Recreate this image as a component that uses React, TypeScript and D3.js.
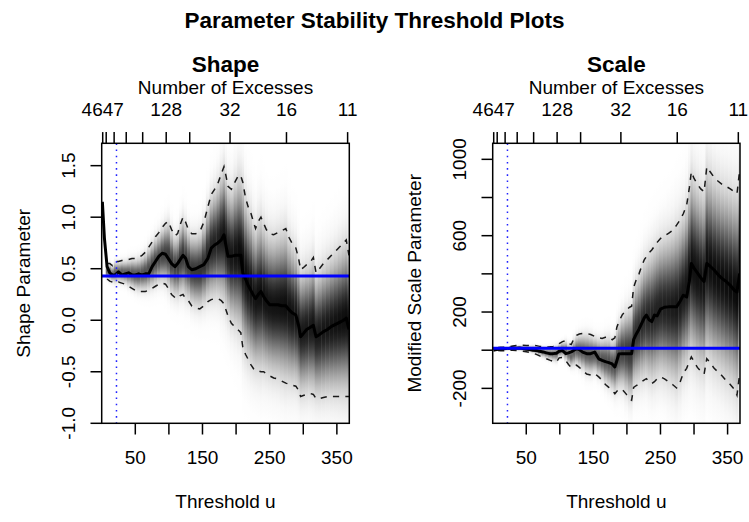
import React from "react";
import * as d3 from "d3";

// ---------------- data ----------------
const thresholds = [
  1, 4, 8, 12, 16, 20, 25, 30, 35, 40,
  45, 50, 55, 60, 65, 70, 75, 80, 85, 90,
  95, 99, 104, 109, 113, 117, 121, 125, 129, 134,
  140, 146, 152, 158, 163, 168, 173, 178, 182, 185,
  188, 193, 199, 204, 207, 210, 214, 218, 222, 226,
  229, 233, 237, 241, 245, 250, 256, 262, 268, 274,
  279, 284, 289, 293, 296, 300, 305, 310, 315, 319,
  324, 330, 336, 342, 348, 354, 360, 364, 368,
];

const shapeEst = [
  1.15, 0.8, 0.52, 0.46, 0.44, 0.44, 0.47, 0.44, 0.45, 0.46,
  0.44, 0.44, 0.45, 0.44, 0.45, 0.45, 0.52, 0.57, 0.62, 0.65,
  0.64, 0.6, 0.55, 0.52, 0.55, 0.59, 0.63, 0.6, 0.52, 0.49,
  0.5, 0.52, 0.54, 0.6, 0.7, 0.73, 0.75, 0.78, 0.83, 0.72,
  0.62, 0.62, 0.63, 0.63, 0.63, 0.46, 0.4, 0.34, 0.29, 0.24,
  0.21, 0.25, 0.28, 0.23, 0.19, 0.15, 0.15, 0.15, 0.14, 0.14,
  0.1, 0.07, 0.05, -0.05, -0.16, -0.13, -0.09, -0.07, -0.05, -0.16,
  -0.14, -0.11, -0.09, -0.06, -0.04, -0.02, 0.0, 0.02, -0.09,
];

const shapeUpper: (number | null)[] = [
  null, null, 0.55, 0.55, 0.53, 0.57, 0.57, 0.58, 0.58, 0.59,
  0.6, 0.6, 0.61, 0.63, 0.66, 0.71, 0.76, 0.81, 0.85, 0.9,
  0.94, 0.96, 0.88, 0.82, 0.84, 0.93, 1.0, 0.95, 0.88, 0.84,
  0.84, 0.86, 0.95, 1.1, 1.22, 1.27, 1.33, 1.42, 1.49, 1.4,
  1.3, 1.27, 1.35, 1.41, 1.4, 1.34, 1.19, 1.1, 1.04, 0.95,
  0.89, 0.96, 1.0, 0.94, 0.88, 0.84, 0.83, 0.85, 0.87, 0.89,
  0.8, 0.74, 0.7, 0.6, 0.49, 0.51, 0.54, 0.56, 0.61, 0.46,
  0.5, 0.55, 0.59, 0.63, 0.67, 0.71, 0.75, 0.78, 0.63,
];

const shapeLower: (number | null)[] = [
  null, null, 0.4, 0.38, 0.37, 0.36, 0.37, 0.36, 0.35, 0.33,
  0.31, 0.29, 0.28, 0.28, 0.28, 0.29, 0.31, 0.33, 0.35, 0.36,
  0.35, 0.31, 0.25, 0.22, 0.21, 0.24, 0.25, 0.21, 0.19, 0.14,
  0.12, 0.11, 0.14, 0.18, 0.2, 0.21, 0.21, 0.19, 0.16, 0.1,
  0.04, -0.03, -0.07, -0.1, -0.12, -0.26, -0.33, -0.38, -0.43, -0.47,
  -0.49, -0.49, -0.5, -0.5, -0.52, -0.54, -0.56, -0.57, -0.59, -0.61,
  -0.62, -0.63, -0.64, -0.68, -0.74, -0.73, -0.72, -0.71, -0.72, -0.76,
  -0.76, -0.75, -0.74, -0.74, -0.74, -0.74, -0.74, -0.74, -0.74,
];

const scaleEst = [
  0, 2, 5, 7, 8, 9, 10, 12, 10, 12,
  9, 5, 3, 0, -2, -6, -9, -14, -18, -18,
  -16, -6, -2, -18, -14, -9, 0, 8, 3, -10,
  -18, -18, -10, -45, -53, -60, -65, -72, -88, -55,
  -20, -18, -18, -18, -18, 55, 85, 110, 140, 170,
  184, 160, 150, 184, 180, 215, 225, 227, 227, 227,
  255, 288, 279, 360, 454, 430, 405, 380, 360, 454,
  440, 420, 395, 375, 360, 340, 314, 305, 402,
];

const scaleUpper: (number | null)[] = [
  null, null, 14, 15, 16, 17, 18, 22, 24, 26,
  26, 25, 25, 26, 24, 20, 18, 17, 18, 20,
  25, 35, 45, 50, 35, 30, 60, 78, 85, 88,
  88, 82, 72, 65, 62, 68, 70, 55, 65, 120,
  150, 185, 210, 225, 230, 330, 370, 400, 440, 475,
  490, 510, 525, 545, 565, 585, 600, 612, 628, 655,
  682, 715, 760, 850, 935, 900, 870, 845, 830, 960,
  935, 905, 885, 868, 858, 845, 830, 820, 943,
];

const scaleLower: (number | null)[] = [
  null, null, -2, -3, -3, -2, -1, 0, -2, -3,
  -5, -8, -12, -16, -22, -30, -38, -45, -52, -58,
  -62, -40, -38, -55, -75, -90, -85, -78, -90, -105,
  -125, -130, -122, -140, -157, -180, -195, -210, -228, -215,
  -205, -205, -230, -255, -262, -195, -185, -176, -165, -155,
  -149, -165, -175, -165, -150, -140, -150, -165, -180, -198,
  -170, -120, -95, -60, -35, -60, -90, -110, -125, -44,
  -65, -95, -115, -135, -160, -180, -205, -236, -122,
];

// Top axis: thresholds at which the number of excesses takes these values
const excessTickThresholds = [1.5, 6.7, 18.5, 36.5, 61, 96, 131, 191, 275, 366];
const excessTickLabels = ["4647", "2048", "1024", "512", "256", "128", "64", "32", "16", "11"];

const xTicks = [50, 100, 150, 200, 250, 300, 350];
const shapeYTicks = [-1.0, -0.5, 0.0, 0.5, 1.0, 1.5];
const scaleYTicks = [-200, 0, 200, 400, 600, 800, 1000];

const xDomain: [number, number] = [0, 368.5];
const shapeYDomain: [number, number] = [-1.0, 1.717];
const scaleYDomain: [number, number] = [-383, 1084];

const shapeRef = 0.43;
const scaleRef = 10;
const chosenThreshold = 22;

// ---------------- layout / style ----------------
const W = 749;
const H = 522;
const FONT = "'Liberation Sans', Arial, Helvetica, sans-serif";
const FS = 19;
const LH = 22.4;
const TICK = 11.2;

function charW(c: string) {
  if (c === ".") return 0.278;
  if (c === "-") return 0.333;
  return 0.556;
}
function textW(s: string) {
  return [...s].reduce((a, c) => a + charW(c), 0) * FS;
}
// R-like label thinning: keep a label only if it stays one "m" away from the previous kept label
function visibleMask(positions: number[], labels: string[]) {
  const gap = 0.833 * FS;
  let lastPos: number | null = null;
  let lastHalf = 0;
  return positions.map((p, i) => {
    const half = textW(labels[i]) / 2;
    if (lastPos === null) {
      lastPos = p;
      lastHalf = half;
      return true;
    }
    const dist = Math.abs(p - lastPos) - lastHalf - half;
    if (dist >= gap) {
      lastPos = p;
      lastHalf = half;
      return true;
    }
    return false;
  });
}

type PanelProps = {
  id: string;
  left: number;
  right: number;
  top: number;
  bottom: number;
  yDomain: [number, number];
  est: number[];
  lower: (number | null)[];
  upper: (number | null)[];
  yTicks: number[];
  fmt: (v: number) => string;
  title: string;
  ylab: string;
  refValue: number;
};

function Panel(p: PanelProps) {
  const { id, left, right, top, bottom } = p;
  const x = d3.scaleLinear().domain(xDomain).range([left, right]);
  const y = d3.scaleLinear().domain(p.yDomain).range([bottom, top]);
  const n = thresholds.length;

  // density shading columns
  const sds = thresholds.map((_, i) =>
    p.lower[i] == null || p.upper[i] == null ? null : ((p.upper[i] as number) - (p.lower[i] as number)) / 3.92
  );
  const sdMax = d3.max(sds.filter((s) => s != null) as number[]) as number;
  const cols = thresholds
    .map((u, i) => {
      const sd = sds[i];
      if (sd == null) return null;
      const c = ((p.upper[i] as number) + (p.lower[i] as number)) / 2;
      const x0 = i === 0 ? xDomain[0] : (thresholds[i - 1] + u) / 2;
      const x1 = i === n - 1 ? xDomain[1] : (u + thresholds[i + 1]) / 2;
      const peak = 0.42 + 0.55 * Math.sqrt(Math.min(1, sd / sdMax));
      const yT = y(c + 3.6 * sd);
      const yB = y(c - 3.6 * sd);
      const stops = d3.range(0, 37).map((k) => {
        const t = k / 36;
        const z = 3.6 - 7.2 * t;
        const d = peak * Math.exp(-(z * z) / 2);
        const g = Math.round(255 * (1 - d));
        return { off: t, col: `rgb(${g},${g},${g})` };
      });
      return { i, px0: x(x0), px1: x(x1), yT, yB, stops };
    })
    .filter((c) => c != null) as any[];

  const mkLine = (arr: (number | null)[]) =>
    d3
      .line<number | null>()
      .defined((d) => d != null)
      .x((_, i) => x(thresholds[i]))
      .y((d) => y(d as number))(arr) || "";

  const xPos = xTicks.map((t) => x(t));
  const xLab = xTicks.map((t) => String(t));
  const xMask = visibleMask(xPos, xLab);
  const topPos = excessTickThresholds.map((t) => x(t));
  const topMask = visibleMask(topPos, excessTickLabels);
  const yPos = p.yTicks.map((t) => y(t));
  const yLab = p.yTicks.map(p.fmt);
  const yMask = visibleMask(yPos, yLab);
  const cx = (left + right) / 2;
  const cy = (top + bottom) / 2;

  return (
    <g>
      <defs>
        <clipPath id={`${id}-clip`}>
          <rect x={left} y={top} width={right - left} height={bottom - top} />
        </clipPath>
        {cols.map((c) => (
          <linearGradient
            key={c.i}
            id={`${id}-g${c.i}`}
            gradientUnits="userSpaceOnUse"
            x1={0}
            x2={0}
            y1={c.yT}
            y2={c.yB}
          >
            {c.stops.map((s: any, k: number) => (
              <stop key={k} offset={s.off} stopColor={s.col} />
            ))}
          </linearGradient>
        ))}
      </defs>
      <g clipPath={`url(#${id}-clip)`}>
        {cols.map((c) => (
          <rect
            key={c.i}
            x={c.px0}
            y={c.yT}
            width={c.px1 - c.px0 + 0.4}
            height={c.yB - c.yT}
            fill={`url(#${id}-g${c.i})`}
          />
        ))}
        <path d={mkLine(p.upper)} fill="none" stroke="#1a1a1a" strokeWidth={1.5} strokeDasharray="6.2,6.2" />
        <path d={mkLine(p.lower)} fill="none" stroke="#1a1a1a" strokeWidth={1.5} strokeDasharray="6.2,6.2" />
        <path d={mkLine(p.est)} fill="none" stroke="#000" strokeWidth={3} strokeLinejoin="round" />
        <line
          x1={x(chosenThreshold)}
          x2={x(chosenThreshold)}
          y1={top}
          y2={bottom}
          stroke="#2222ff"
          strokeWidth={1.5}
          strokeDasharray="1.6,4.6"
        />
        <line x1={left} x2={right} y1={y(p.refValue)} y2={y(p.refValue)} stroke="#0000ff" strokeWidth={3} />
      </g>
      <rect x={left} y={top} width={right - left} height={bottom - top} fill="none" stroke="#000" strokeWidth={1.5} />

      {/* bottom axis */}
      {xTicks.map((t, i) => (
        <g key={`xb${t}`}>
          <line x1={xPos[i]} x2={xPos[i]} y1={bottom} y2={bottom + TICK} stroke="#000" strokeWidth={1.5} />
          {xMask[i] && (
            <text x={xPos[i]} y={bottom + 1.8 * LH} textAnchor="middle" fontSize={FS}>
              {xLab[i]}
            </text>
          )}
        </g>
      ))}
      <text x={cx} y={bottom + 3.8 * LH} textAnchor="middle" fontSize={FS}>
        Threshold u
      </text>

      {/* top axis */}
      {excessTickThresholds.map((t, i) => (
        <g key={`xt${i}`}>
          <line x1={topPos[i]} x2={topPos[i]} y1={top} y2={top - TICK} stroke="#000" strokeWidth={1.5} />
          {topMask[i] && (
            <text x={topPos[i]} y={top - 1.2 * LH} textAnchor="middle" fontSize={FS}>
              {excessTickLabels[i]}
            </text>
          )}
        </g>
      ))}
      <text x={cx} y={top - 2.2 * LH} textAnchor="middle" fontSize={FS}>
        Number of Excesses
      </text>
      <text x={cx} y={top - 3.2 * LH} textAnchor="middle" fontSize={22.5} fontWeight="bold">
        {p.title}
      </text>

      {/* left axis */}
      {p.yTicks.map((t, i) => (
        <g key={`y${t}`}>
          <line x1={left} x2={left - TICK} y1={yPos[i]} y2={yPos[i]} stroke="#000" strokeWidth={1.5} />
          {yMask[i] && (
            <text
              transform={`translate(${left - 1.2 * LH},${yPos[i]}) rotate(-90)`}
              textAnchor="middle"
              fontSize={FS}
            >
              {yLab[i]}
            </text>
          )}
        </g>
      ))}
      <text transform={`translate(${left - 3.2 * LH},${cy}) rotate(-90)`} textAnchor="middle" fontSize={FS}>
        {p.ylab}
      </text>
    </g>
  );
}

export default function App() {
  return (
    <svg
      width={W}
      height={H}
      viewBox={`0 0 ${W} ${H}`}
      style={{ position: "absolute", left: 0, top: 0, background: "#fff" }}
      fontFamily={FONT}
    >
      <rect x={0} y={0} width={W} height={H} fill="#fff" />
      <text x={W / 2} y={28} textAnchor="middle" fontSize={22.5} fontWeight="bold">
        Parameter Stability Threshold Plots
      </text>
      <Panel
        id="shape"
        left={101.7}
        right={349.3}
        top={143.3}
        bottom={423.3}
        yDomain={shapeYDomain}
        est={shapeEst}
        lower={shapeLower}
        upper={shapeUpper}
        yTicks={shapeYTicks}
        fmt={(v) => v.toFixed(1)}
        title="Shape"
        ylab="Shape Parameter"
        refValue={shapeRef}
      />
      <Panel
        id="scale"
        left={492.7}
        right={740}
        top={143.3}
        bottom={423.3}
        yDomain={scaleYDomain}
        est={scaleEst}
        lower={scaleLower}
        upper={scaleUpper}
        yTicks={scaleYTicks}
        fmt={(v) => String(v)}
        title="Scale"
        ylab="Modified Scale Parameter"
        refValue={scaleRef}
      />
    </svg>
  );
}
